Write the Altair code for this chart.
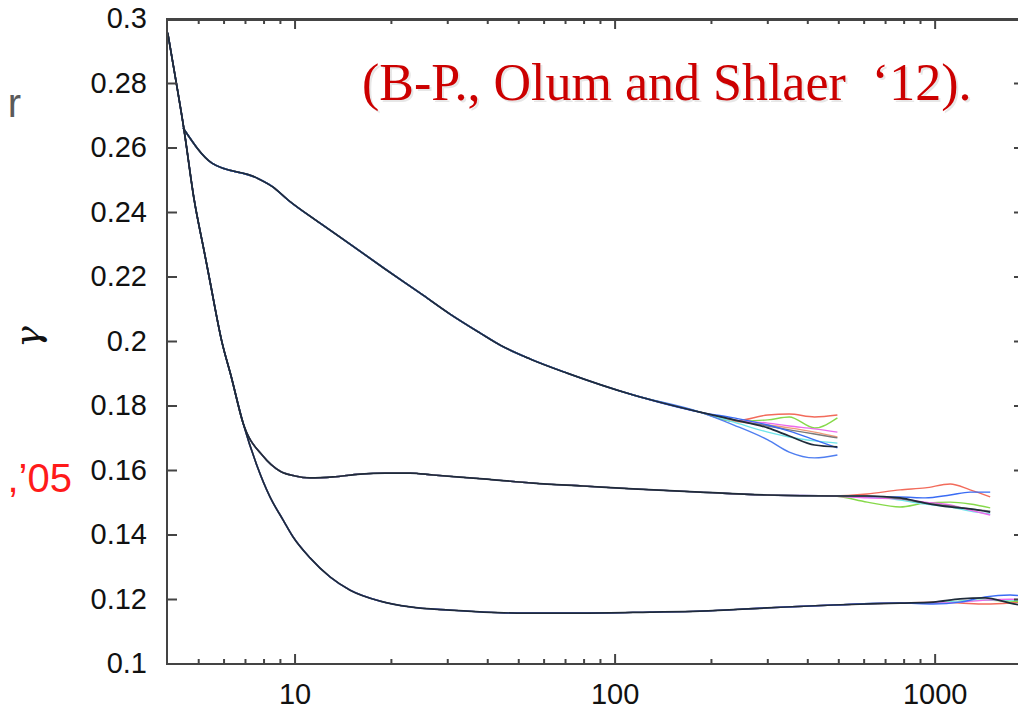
import altair as alt
import pandas as pd

# ---------------- tick / label values ----------------
X_MAJOR = [10, 100, 1000]
X_LABELS = ["10", "100", "1000"]
X_MINOR = [5, 6, 7, 8, 9, 20, 30, 40, 50, 60, 70, 80, 90,
           200, 300, 400, 500, 600, 700, 800, 900]
Y_TICKS = [0.10, 0.12, 0.14, 0.16, 0.18, 0.20, 0.22, 0.24, 0.26, 0.28, 0.30]
Y_LABELS = ["0.1", "0.12", "0.14", "0.16", "0.18", "0.2", "0.22", "0.24", "0.26", "0.28", "0.3"]

TITLE_TEXT = "(B-P., Olum and Shlaer \u00a0\u201812)."
LEFT_RED_TEXT = "t,\u201905"
LEFT_GRAY_TEXT = "r"
Y_LABEL = "\u03b3"

# ---------------- curve data ----------------
# steep part shared by the middle (B) and bottom (C) curve families
BC_X = [4.0, 4.25, 4.49, 4.84, 5.19, 5.39, 5.91, 6.31, 6.88]
BC_Y = [0.2957, 0.2805, 0.2662, 0.2439, 0.2284, 0.2200, 0.1998, 0.1893, 0.1747]

# bottom family (C), common part
C_X = [7.61, 8.35, 9.17, 9.86, 11.14, 12.86, 14.86, 18.44, 22.88, 30.5, 49.4,
       79.4, 128.6, 184.4, 298.5, 480, 776]
C_Y = [0.1614, 0.1518, 0.1447, 0.1394, 0.1329, 0.1270, 0.1229, 0.1195, 0.1177,
       0.1167, 0.1158, 0.1158, 0.1161, 0.1164, 0.1174, 0.1183, 0.1189]
C_TAIL_X = [986, 1197, 1432, 1715, 2000]
C_TAILS = {
    "red":     [0.1192, 0.1189, 0.1186, 0.1189, 0.1195],
    "green":   [0.1189, 0.1195, 0.1198, 0.1195, 0.1192],
    "cyan":    [0.1189, 0.1195, 0.1198, 0.1198, 0.1195],
    "magenta": [0.1189, 0.1192, 0.1198, 0.1201, 0.1198],
    "blue":    [0.1186, 0.1192, 0.1208, 0.1214, 0.1205],
    "black":   [0.1192, 0.1202, 0.1205, 0.1189, 0.1177],
}

# middle family (B), common part
B_X = [7.94, 8.98, 10.0, 11.14, 13.14, 15.97, 19.1, 22.88, 27.0, 38.7, 55.5,
       79.4, 113.8, 184.4, 298.5, 480]
B_Y = [0.1645, 0.1598, 0.1583, 0.1577, 0.1580, 0.1589, 0.1592, 0.1592, 0.1586,
       0.1574, 0.1561, 0.1552, 0.1543, 0.1533, 0.1524, 0.1521]
B_TAIL_X = [613, 777, 931, 1114, 1286, 1486]
B_TAILS = {
    "red":     [0.1527, 0.1540, 0.1546, 0.1558, 0.1540, 0.1518],
    "green":   [0.1502, 0.1487, 0.1499, 0.1502, 0.1496, 0.1484],
    "blue":    [0.1518, 0.1518, 0.1515, 0.1524, 0.1533, 0.1533],
    "cyan":    [0.1521, 0.1508, 0.1496, 0.1487, 0.1474, 0.1465],
    "magenta": [0.1515, 0.1512, 0.1502, 0.1493, 0.1477, 0.1462],
    "gray":    [0.1521, 0.1512, 0.1499, 0.1490, 0.1481, 0.1474],
    "black":   [0.1521, 0.1515, 0.1499, 0.1487, 0.1481, 0.1471],
}

# top family (A), common part
A_X = [4.47, 5.5, 7.6, 8.53, 9.5, 11.97, 14.85, 19.1, 24.6, 30.5, 37.9, 43.7,
       54.2, 70.8, 114, 184]
A_Y = [0.2662, 0.2553, 0.2507, 0.2479, 0.2439, 0.2367, 0.2302, 0.2225, 0.2150,
       0.2085, 0.2026, 0.1989, 0.1946, 0.1902, 0.1834, 0.1781]
A_TAIL_X = [235, 300, 350, 420, 495]
A_TAILS = {
    "red":     [0.1753, 0.1772, 0.1775, 0.1766, 0.1772],
    "green":   [0.1753, 0.1757, 0.1766, 0.1732, 0.1763],
    "magenta": [0.1757, 0.1747, 0.1738, 0.1729, 0.1719],
    "orange":  [0.1753, 0.1741, 0.1732, 0.1719, 0.1704],
    "gray":    [0.1757, 0.1738, 0.1726, 0.1713, 0.1701],
    "cyan":    [0.1750, 0.1719, 0.1704, 0.1692, 0.1685],
    "blue":    [0.1763, 0.1741, 0.1722, 0.1695, 0.1670],
    "blue2":   [0.1741, 0.1695, 0.1657, 0.1639, 0.1648],
    "black":   [0.1757, 0.1732, 0.1707, 0.1679, 0.1673],
}

RUN_NAMES = ["red", "green", "blue", "magenta", "cyan", "orange", "gray", "blue2", "black"]
RUN_COLORS = ["#f26b5b", "#86d94a", "#3a6cf4", "#ec6aec", "#6ee6ea", "#f09a7a",
              "#7a7a7a", "#4f7ef0", "#1f2b3a"]

# ---------------- build long table ----------------
rows = []
families = [
    ("A", A_X, A_Y, A_TAIL_X, A_TAILS),
    ("B", BC_X + B_X, BC_Y + B_Y, B_TAIL_X, B_TAILS),
    ("C", BC_X + C_X, BC_Y + C_Y, C_TAIL_X, C_TAILS),
]
for fam, bx, by, tx, tails in families:
    for run, ty in tails.items():
        xs = bx + tx
        ys = by + ty
        for i, (xv, yv) in enumerate(zip(xs, ys)):
            rows.append({"series": f"{fam}-{run}", "run": run, "x": xv, "y": yv, "i": i})
df = pd.DataFrame(rows)
df_col = df[df["run"] != "black"]
df_blk = df[df["run"] == "black"]

W, H = 851, 645
AXIS_COLOR = "#444444"
LABEL_FONT = "Liberation Sans"

xscale = alt.Scale(type="log", domain=[3.98, 1815], nice=False)
yscale = alt.Scale(domain=[0.1, 0.3], nice=False, zero=False)

color = alt.Color("run:N", scale=alt.Scale(domain=RUN_NAMES, range=RUN_COLORS), legend=None)

lines_col = alt.Chart(df_col).mark_line(strokeWidth=1.4, clip=True, interpolate="monotone").encode(
    x=alt.X("x:Q", scale=xscale, axis=None),
    y=alt.Y("y:Q", scale=yscale, axis=None),
    detail="series:N",
    color=color,
    order="i:Q",
)
lines_blk = alt.Chart(df_blk).mark_line(strokeWidth=1.7, clip=True, interpolate="monotone").encode(
    x=alt.X("x:Q", scale=xscale, axis=None),
    y=alt.Y("y:Q", scale=yscale, axis=None),
    detail="series:N",
    color=color,
    order="i:Q",
)

# ---------------- frame, inward ticks and tick labels ----------------
xmaj = pd.DataFrame({"v": X_MAJOR, "lab": X_LABELS})
xmin = pd.DataFrame({"v": X_MINOR})
yt = pd.DataFrame({"v": Y_TICKS, "lab": Y_LABELS})
one = pd.DataFrame({"k": [0]})

XV = alt.X("v:Q", scale=xscale, axis=None)
YV = alt.Y("v:Q", scale=yscale, axis=None)
rule = dict(color=AXIS_COLOR, strokeWidth=2)

frame = alt.Chart(one).mark_rect(fill=None, stroke=AXIS_COLOR, strokeWidth=2).encode(
    x=alt.value(0), x2=alt.value(W + 30), y=alt.value(0), y2=alt.value(H))
top_line = alt.Chart(one).mark_rule(**rule).encode(
    x=alt.value(0), x2=alt.value(W), y=alt.value(1))


def vrule(data, y1, y2):
    return alt.Chart(data).mark_rule(**rule).encode(x=XV, y=alt.value(y1), y2=alt.value(y2))


def hrule(data, x1, x2):
    return alt.Chart(data).mark_rule(**rule).encode(y=YV, x=alt.value(x1), x2=alt.value(x2))


frame_layers = [
    frame, top_line,
    vrule(xmaj, H - 10, H), vrule(xmaj, 0, 10),
    vrule(xmin, H - 5, H), vrule(xmin, 0, 5),
    hrule(yt, 0, 10), hrule(yt, W - 4, W),
    alt.Chart(xmaj).mark_text(font=LABEL_FONT, fontSize=29, color="#111111",
                              align="center", baseline="alphabetic").encode(
        x=XV, y=alt.value(H + 40), text="lab:N"),
    alt.Chart(yt).mark_text(font=LABEL_FONT, fontSize=29, color="#111111",
                            align="right", baseline="middle").encode(
        y=YV, x=alt.value(-20), text="lab:N"),
]

# ---------------- texts ----------------
title_shadow = alt.Chart(pd.DataFrame({"t": [TITLE_TEXT]})).mark_text(
    font="Liberation Serif", fontSize=52, color="#bbbbbb", opacity=0.35,
    align="left", baseline="alphabetic").encode(
    x=alt.value(197), y=alt.value(83), text="t:N")
title = alt.Chart(pd.DataFrame({"t": [TITLE_TEXT]})).mark_text(
    font="Liberation Serif", fontSize=52, color="#cc0000",
    align="left", baseline="alphabetic").encode(
    x=alt.value(195), y=alt.value(81), text="t:N")
ylab = alt.Chart(pd.DataFrame({"t": [Y_LABEL]})).mark_text(
    font="DejaVu Serif", fontSize=36, fontStyle="italic", color="#111111", angle=270,
    align="center", baseline="middle").encode(
    x=alt.value(-138), y=alt.value(318), text="t:N")
red_txt = alt.Chart(pd.DataFrame({"t": [LEFT_RED_TEXT]})).mark_text(
    font="Liberation Sans", fontSize=40, color="#ff1a1a",
    align="right", baseline="alphabetic").encode(
    x=alt.value(-95), y=alt.value(473), text="t:N")
gray_txt = alt.Chart(pd.DataFrame({"t": [LEFT_GRAY_TEXT]})).mark_text(
    font="Liberation Sans", fontSize=40, color="#5a5a5a",
    align="right", baseline="alphabetic").encode(
    x=alt.value(-146), y=alt.value(98), text="t:N")

chart = alt.layer(
    lines_col, lines_blk, *frame_layers,
    title_shadow, title, ylab, red_txt, gray_txt,
).properties(
    width=W, height=H,
    padding={"left": 159, "top": 11, "right": 0, "bottom": 45},
    autosize=alt.AutoSizeParams(type="none"),
    background="white",
).configure_view(stroke=None)

chart.save("out.html", embed_options={"renderer": "svg", "actions": False})
